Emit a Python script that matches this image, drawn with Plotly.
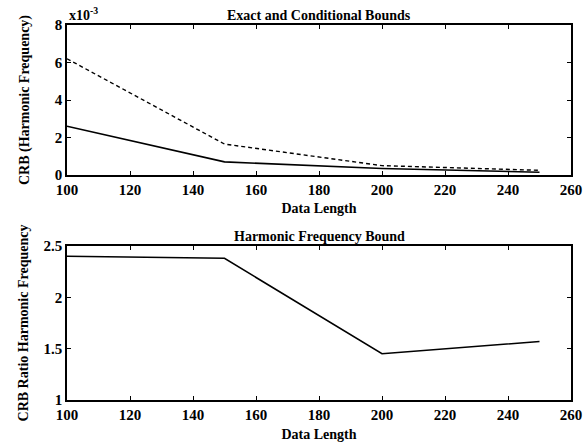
import plotly.graph_objects as go

data_length = [100, 150, 200, 250]
crb_exact = [2.6e-3, 0.7e-3, 0.35e-3, 0.15e-3]
crb_conditional = [6.2e-3, 1.65e-3, 0.5e-3, 0.25e-3]
crb_ratio = [2.40, 2.38, 1.45, 1.57]

FONT = "Liberation Serif"

fig = go.Figure()
fig.add_trace(go.Scatter(x=data_length, y=[v * 1e3 for v in crb_exact], mode="lines",
                         line=dict(color="black", width=1.6), xaxis="x", yaxis="y", showlegend=False))
fig.add_trace(go.Scatter(x=data_length, y=[v * 1e3 for v in crb_conditional], mode="lines",
                         line=dict(color="black", width=1.4, dash="4px,3px"), xaxis="x", yaxis="y", showlegend=False))
fig.add_trace(go.Scatter(x=data_length, y=crb_ratio, mode="lines",
                         line=dict(color="black", width=1.6), xaxis="x2", yaxis="y2", showlegend=False))

axis_common = dict(showgrid=False, zeroline=False, showline=True, linecolor="black", linewidth=1.5,
                   mirror="ticks", ticks="inside", ticklen=4, tickcolor="black", automargin=False,
                   tickfont=dict(family=FONT, size=15, color="black", weight="bold"))

title_font = dict(family=FONT, size=14, color="black", weight="bold")

fig.update_layout(
    width=586, height=442,
    margin=dict(l=67, r=15, t=25, b=42),
    plot_bgcolor="white", paper_bgcolor="white",
    font=dict(family=FONT, color="black"),
    xaxis=dict(domain=[0, 1], anchor="y", range=[100, 260], dtick=20,
               title=dict(text="Data Length", font=title_font, standoff=6), **axis_common),
    yaxis=dict(domain=[0.6, 1.0], anchor="x", range=[0, 8], dtick=2,
               title=dict(text="CRB (Harmonic Frequency)", font=title_font, standoff=22), **axis_common),
    xaxis2=dict(domain=[0, 1], anchor="y2", range=[100, 260], dtick=20,
                title=dict(text="Data Length", font=title_font, standoff=8), **axis_common),
    yaxis2=dict(domain=[0, 0.4107], anchor="x2", range=[1, 2.5], dtick=0.5,
                title=dict(text="CRB Ratio Harmonic Frequency", font=title_font, standoff=12), **axis_common),
    annotations=[
        dict(text="Exact and Conditional Bounds", x=0.5, y=1.0, xref="paper", yref="paper",
             xanchor="center", yanchor="bottom", showarrow=False, font=title_font),
        dict(text="Harmonic Frequency Bound", x=0.5, y=0.4107, xref="paper", yref="paper",
             xanchor="center", yanchor="bottom", showarrow=False, font=title_font),
        dict(text="x10<sup>-3</sup>", x=0.0, y=1.0, xref="paper", yref="paper",
             xanchor="left", yanchor="bottom", showarrow=False, font=title_font),
    ],
)

fig.write_html("out.html")
